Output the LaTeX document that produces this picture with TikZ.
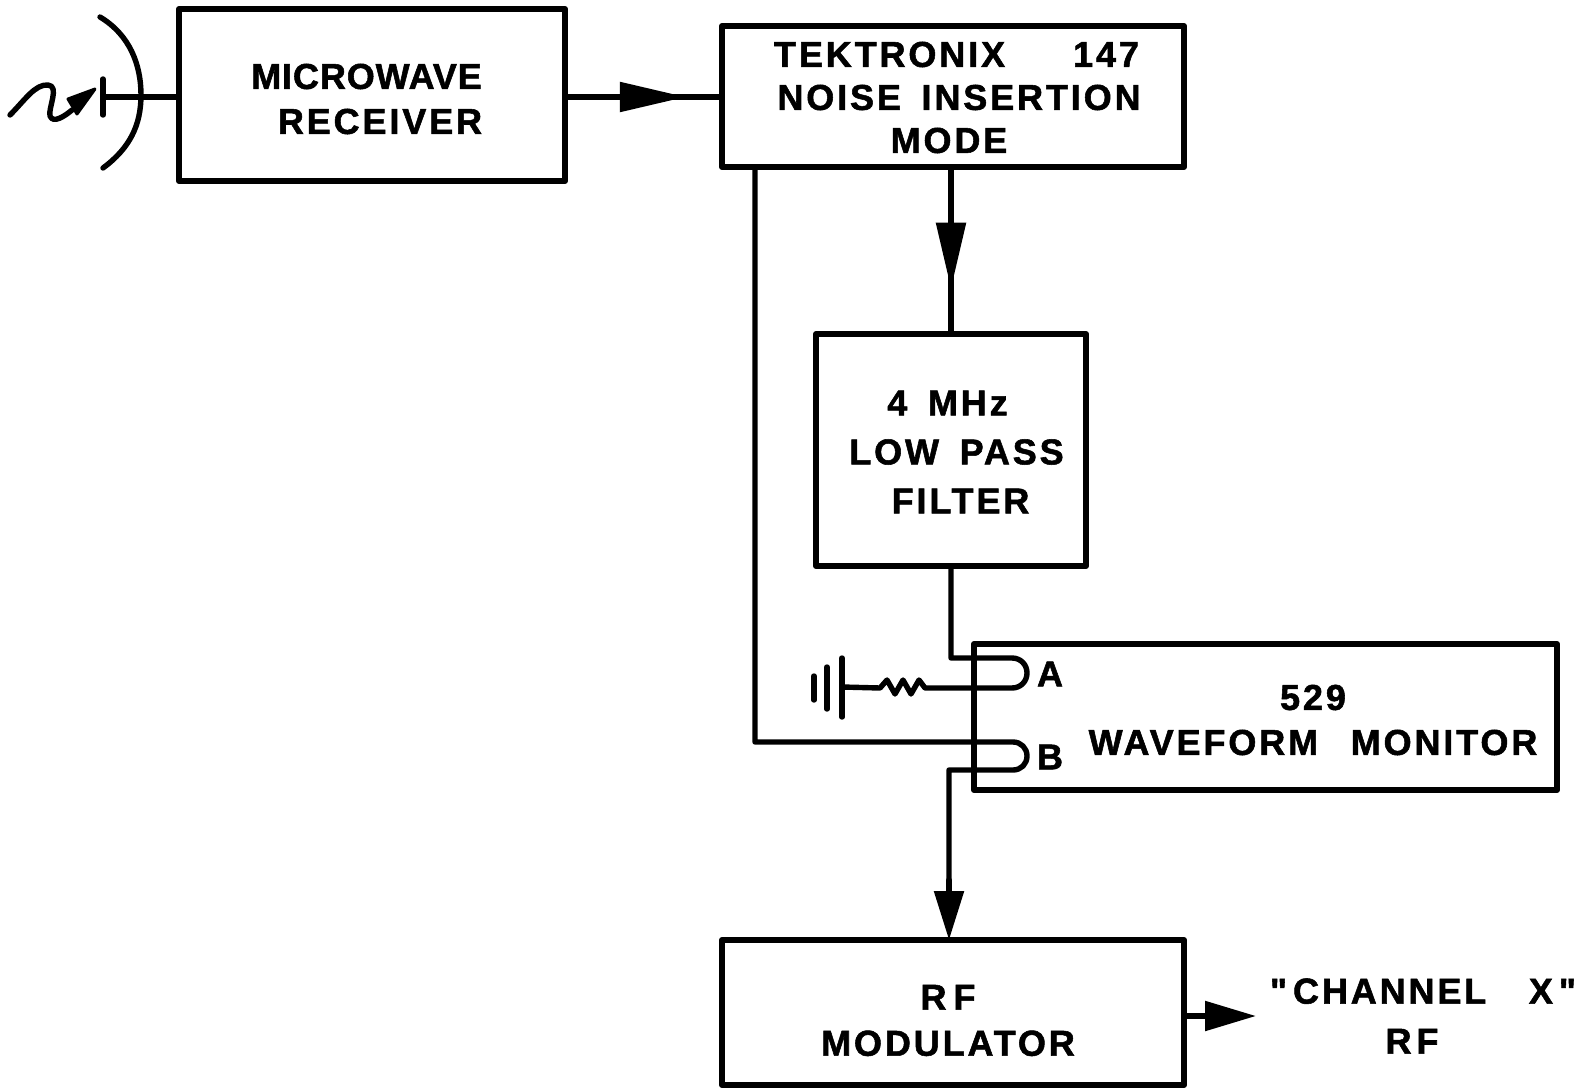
\documentclass[tikz,border=0pt]{standalone}
\usepackage{fontspec}
\newfontfamily\lettering{Liberation Sans}[LetterSpace=8,WordSpace=1.6,BoldFeatures={FakeBold=1.5}]
\usetikzlibrary{arrows.meta,decorations.markings,calc}
\newcommand{\shr}[2]{\hspace*{#1pt}#2}
\newcommand{\shl}[2]{#2\hspace*{#1pt}}
\tikzset{
 x=1pt,y=-1pt,
 ln/.style={line width=6pt,line join=round,line cap=round},
 wire/.style={line width=5.4pt,line join=round,line cap=round},
 blk/.style={draw,ln,inner sep=0pt},
 lbl/.style={inner sep=0pt,align=center,font=\lettering\bfseries\fontsize{36}{45}\selectfont},
 headat/.style={postaction={decorate,decoration={markings,mark=at position #1 with {\arrow{Triangle[length=66pt,width=29pt]}}}}},
 headend/.style={-{Triangle[length=#1,width=29pt]}},
}
\begin{document}
\begin{tikzpicture}
\useasboundingbox (0,0) rectangle (1587,1087);
\node[blk,minimum width=386pt,minimum height=172pt,label={[lbl,yshift=-4pt]center:{\shl{11}{\addfontfeature{LetterSpace=2.5}MICROWAVE}\\\shr{16}{RECEIVER}}}] (mw) at (372,95) {};
\node[blk,minimum width=462pt,minimum height=141pt,label={[lbl,font=\lettering\bfseries\fontsize{36}{43}\selectfont,yshift=-1pt]center:{\shr{7}{TEKTRONIX\quad\hspace{32pt}147}\\\shr{12}{NOISE INSERTION}\\\shl{8}{MODE}}}] (tek) at (953,96.5) {};
\node[blk,minimum width=270pt,minimum height=232pt,label={[lbl,font=\lettering\bfseries\fontsize{36}{49}\selectfont,yshift=-2pt]center:{\shl{7}{4 MHz}\\\shr{11}{LOW PASS}\\\shr{19}{FILTER}}}] (lpf) at (951,450) {};
\node[blk,minimum width=583pt,minimum height=146pt] (wfm) at (1265.5,717) {};
\node[lbl] (wfmt) at (1313,720) {529\\WAVEFORM\hspace{12pt} MONITOR};
\node[blk,minimum width=462pt,minimum height=145pt,label={[lbl,font=\lettering\bfseries\fontsize{36}{46}\selectfont,yshift=-8pt]center:{\shl{10}{R\hspace{7pt}F}\\\shl{10}{MODULATOR}}}] (rf) at (953,1012.5) {};
\node[lbl] (lA) at (1050,674) {A};
\node[lbl] (lB) at (1050,757) {B};
\node[lbl,font=\lettering\bfseries\fontsize{36}{50}\selectfont] (out) at (1423,1016) {"\hspace{6pt}CHANNEL\hspace{22pt} X\hspace{6pt}"\\\shl{22}{R\hspace{5pt}F}};
% antenna
\coordinate (feed) at (104,97);
\coordinate (dishtop) at (100,17);
\coordinate (dishbot) at (103,168);
\draw[wire] (feed) -- (feed -| mw.west);
\draw[wire] (dishtop) .. controls (130,35) and (141,65) .. (141,95) .. controls (141,125) and (130,148) .. (dishbot);
\draw[wire] (103,79) -- (103,115);
\draw[wire] (10,115) .. controls (25,100) and (35,84) .. (48,85) .. controls (60,86) and (48,108) .. (50,116) .. controls (53,124) and (65,116) .. (72,110);
\fill[line join=round,draw,line width=3pt] (95,89) -- (68,99) -- (77,114) -- cycle;
% main connectors
\draw[wire,headat=0.78] (mw.east |- feed) -- (tek.west |- feed);
\draw[wire,headat=0.737] (tek.south -| lpf.north) -- (lpf.north);
% filter to A, resistor and ground
\coordinate (gnd) at (842,687);
\draw[wire] (lpf.south) -- (951,658) -- (1012,658) .. controls (1021,658) and (1027,665) .. (1027,673) .. controls (1027,681) and (1021,688) .. (1012,688) -- (925,688)
 -- (919,680) -- (911,694) -- (903,680) -- (895,694) -- (887,680) -- (880,688) -- (gnd);
\draw[wire] (842,658) -- (842,717);
\draw[wire] (827,667) -- (827,709);
\draw[wire] (814,676) -- (814,700);
% bypass, B loop, to modulator
\coordinate (rfin) at (949,940);
\draw[wire] (755,167) -- (755,742) -- (1013,742) .. controls (1021,742) and (1027,748) .. (1027,756) .. controls (1027,764) and (1021,770) .. (1013,770) -- (949,770) -- (949,890);
\draw[wire,headend=49pt] (949,880) -- (rfin);
\coordinate (rfo) at (1256,1016);
\draw[wire,line cap=butt,headend=51pt] (rf.east |- rfo) -- (rfo);
\end{tikzpicture}
\end{document}
